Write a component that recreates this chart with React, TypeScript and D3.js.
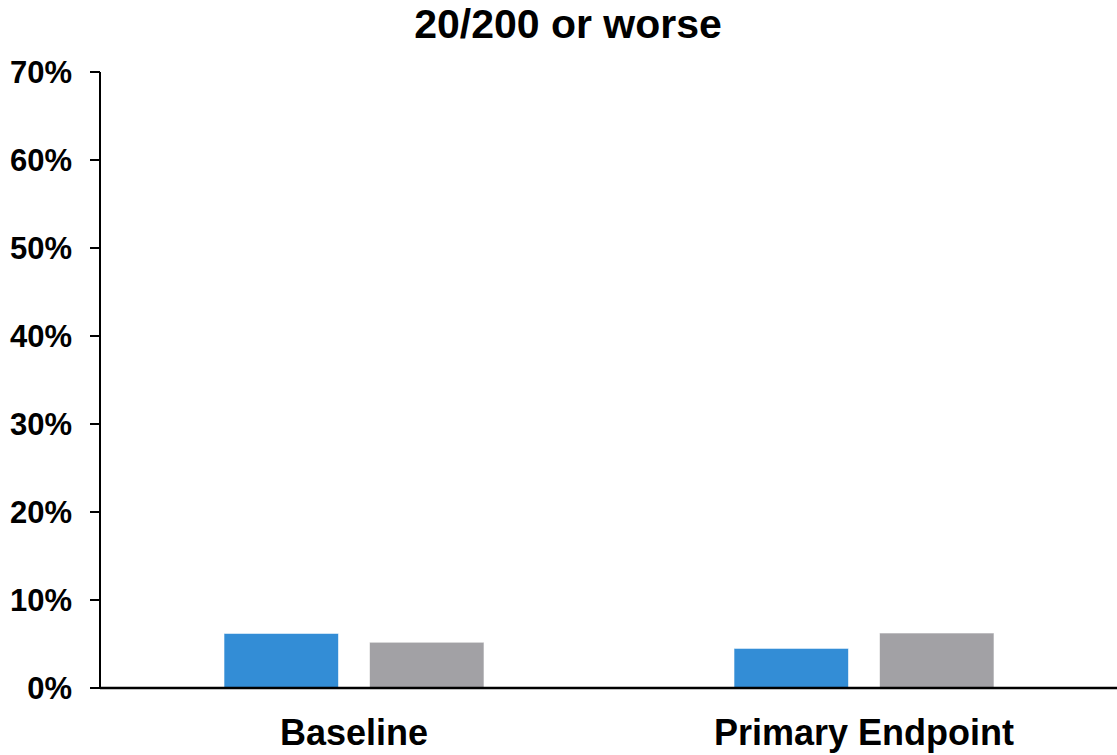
import React from "react";
import * as d3 from "d3";

const categories = ["Baseline", "Primary Endpoint"];
const seriesNames = ["Group A", "Group B"];
const groupAValues = [0.062, 0.045];
const groupBValues = [0.052, 0.0625];
const yTicks = [0, 0.1, 0.2, 0.3, 0.4, 0.5, 0.6, 0.7];
const title = "20/200 or worse";
const colors = ["#338DD6", "#A2A1A5"];

const W = 1117;
const H = 755;
const FONT = "'Liberation Sans', Arial, Helvetica, sans-serif";

export default function App() {
  const y = d3.scaleLinear().domain([0, 0.7]).range([688, 72]);
  const x0 = d3.scaleBand<string>().domain(categories).range([99, 1119]).padding(0);
  const x1 = d3.scaleBand<string>().domain(seriesNames).range([-130, 130]).paddingInner(0.213);
  const seriesValues = [groupAValues, groupBValues];

  return (
    <svg
      width={W}
      height={H}
      style={{ position: "absolute", left: 0, top: 0, background: "#fff" }}
      fontFamily={FONT}
    >
      <text x={568} y={38} textAnchor="middle" fontSize={41} fontWeight="bold" fill="#000">
        {title}
      </text>

      {categories.map((cat, ci) => {
        const cx = (x0(cat) ?? 0) + x0.bandwidth() / 2;
        return (
          <g key={cat}>
            {seriesNames.map((s, si) => {
              const v = seriesValues[si][ci];
              return (
                <rect
                  key={s}
                  x={cx + (x1(s) ?? 0)}
                  y={y(v)}
                  width={x1.bandwidth()}
                  height={y(0) - y(v)}
                  fill={colors[si]}
                  stroke="#ffffff"
                  strokeOpacity={0.6}
                  strokeWidth={1}
                />
              );
            })}
            <text
              x={cx}
              y={745}
              textAnchor="middle"
              fontSize={36}
              fontWeight="bold"
              fill="#000"
            >
              {cat}
            </text>
          </g>
        );
      })}

      {/* y axis */}
      <line x1={100} x2={100} y1={y(0.7)} y2={y(0)} stroke="#000" strokeWidth={2} />
      {yTicks.map((t) => (
        <g key={t}>
          <line x1={90} x2={100} y1={y(t)} y2={y(t)} stroke="#000" strokeWidth={2} />
          <text
            x={72}
            y={y(t)}
            dy="0.36em"
            textAnchor="end"
            fontSize={31}
            fontWeight="bold"
            fill="#000"
          >
            {d3.format(".0%")(t)}
          </text>
        </g>
      ))}

      {/* x axis baseline */}
      <line x1={100} x2={1117} y1={y(0)} y2={y(0)} stroke="#000" strokeWidth={2.5} />
    </svg>
  );
}
